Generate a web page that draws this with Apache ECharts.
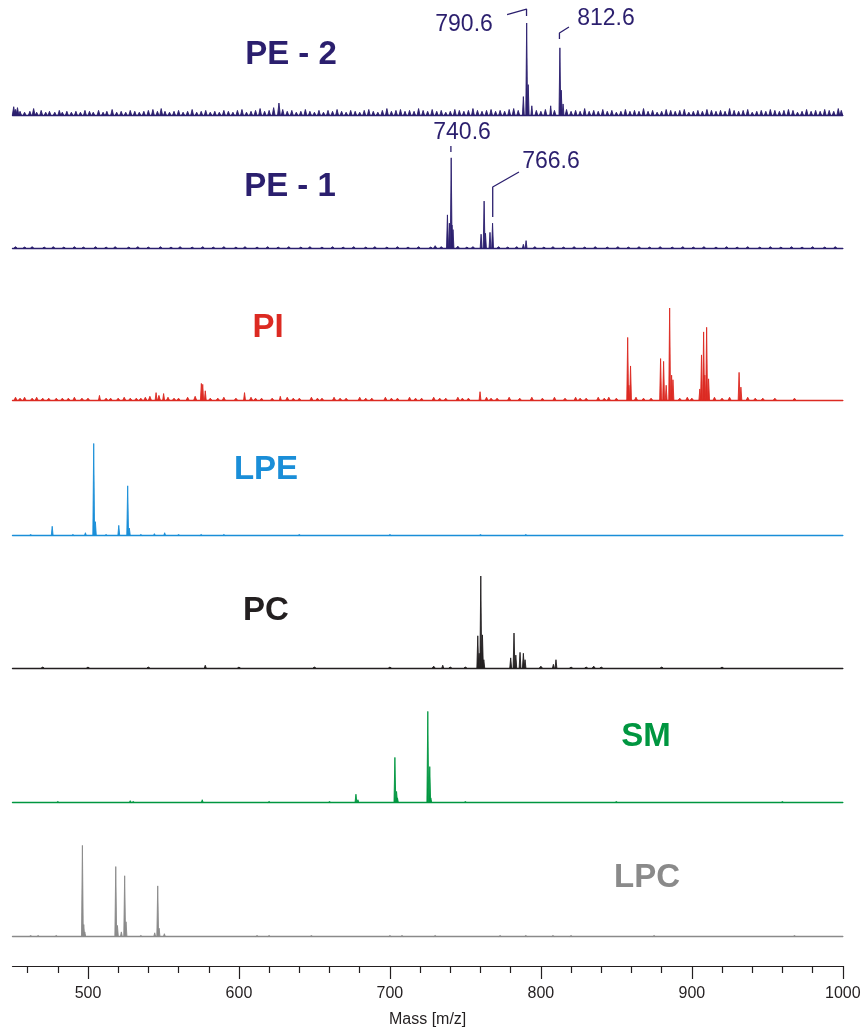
<!DOCTYPE html>
<html>
<head>
<meta charset="utf-8">
<script src="https://cdn.jsdelivr.net/npm/echarts@6/dist/echarts.min.js"></script>
<style>
html,body{margin:0;padding:0;background:#fff;}
#chart{width:862px;height:1033px;}
</style>
</head>
<body>
<div id="chart"></div>
<script>
// ---------------- DATA ----------------
const xMajorTicks = [500, 600, 700, 800, 900, 1000];
const xMinorTicks = [460, 480, 520, 540, 560, 580, 620, 640, 660, 680, 720, 740, 760, 780, 820, 840, 860, 880, 920, 940, 960, 980];
const axisTitle = 'Mass [m/z]';

// [m/z, relative intensity %]
const pe2Peaks = [[788.4, 20], [790.6, 100], [791.6, 33], [794, 10], [806.5, 10], [812.6, 73], [813.5, 27], [814.7, 12]];
const pe2Noise = [[450.8, 9], [452, 6], [453.3, 8], [455, 4], [458, 3], [461.5, 4], [464, 7], [466, 3], [469, 5], [472, 3], [474.5, 4], [478, 3], [481, 5], [483, 3], [486, 4], [489, 3], [492, 4], [495, 3], [498, 5], [501, 4], [503.5, 3], [507, 5], [510, 3], [512.5, 4], [516, 6], [519, 3], [522, 4], [525, 3], [528, 5], [531, 4], [534, 3], [537, 4], [540, 5], [543, 6], [546, 4], [548.5, 7], [551, 4], [554, 3], [557, 4], [560, 5], [563, 3], [566, 4], [569, 6], [572, 3], [575, 4], [578, 5], [581, 3], [584, 4], [587, 3], [590, 5], [593, 4], [596, 3], [599, 5], [602, 6], [605, 3], [608, 4], [611, 5], [614, 7], [617, 4], [620, 5], [623, 8], [626.5, 13], [629, 6], [632, 4], [635, 5], [638, 3], [641, 4], [644, 6], [647, 4], [650, 3], [653, 5], [656, 3], [659, 5], [662, 4], [665, 6], [668, 4], [671, 3], [674, 5], [677, 4], [680, 3], [683, 5], [686, 6], [689, 4], [692, 3], [695, 5], [698, 7], [701, 4], [704, 5], [707, 6], [710, 4], [713, 5], [716, 4], [719, 7], [722, 5], [725, 4], [728, 6], [731, 4], [734, 5], [737, 3], [740, 4], [743, 6], [746, 5], [749, 4], [752, 5], [755, 7], [758, 5], [761, 4], [764, 5], [767, 6], [770, 4], [773, 5], [776, 4], [779, 6], [782, 7], [785, 5], [797, 5], [800, 4], [803, 6], [809, 5], [817, 6], [820, 4], [823, 5], [826, 4], [829, 7], [832, 4], [835, 5], [838, 4], [841, 6], [844, 4], [847, 5], [850, 3], [853, 4], [856, 6], [859, 4], [862, 5], [865, 4], [868, 7], [871, 4], [874, 5], [877, 3], [880, 4], [883, 6], [886, 5], [889, 4], [892, 5], [895, 6], [898, 3], [901, 4], [904, 5], [907, 4], [910, 6], [913, 5], [916, 4], [919, 5], [922, 4], [925, 7], [928, 5], [931, 4], [934, 5], [937, 6], [940, 3], [943, 4], [946, 5], [949, 4], [952, 6], [955, 5], [958, 4], [961, 5], [964, 6], [967, 5], [970, 3], [973, 4], [976, 6], [979, 4], [982, 5], [985, 4], [988, 6], [991, 5], [994, 4], [997, 7], [999, 5]];

const pe1Peaks = [[738.1, 36], [739.4, 27], [740.6, 98], [741.1, 25], [741.8, 20], [760.4, 15], [762.4, 51], [763.3, 16], [766.3, 17], [768, 27], [788.4, 4], [790.2, 8]];
const pe1Noise = [[452, 1.5], [458, 1], [463, 1.5], [471, 1], [477, 1.5], [484, 1], [491, 1.5], [497, 1], [505, 1.5], [512, 1], [518, 1.5], [527, 1], [533, 1.5], [540, 1], [548, 1.5], [555, 1], [561, 1.5], [569, 1], [576, 1.5], [583, 1], [590, 1.5], [598, 1], [604, 1.5], [612, 1], [619, 1.5], [626, 1], [633, 1.5], [641, 1], [647, 1.5], [655, 1], [662, 1.5], [669, 1], [676, 1.5], [684, 1], [690, 1.5], [698, 1], [705, 1.5], [712, 1], [719, 1.5], [727, 1], [730, 2.5], [734, 1.5], [745, 2], [751, 1], [755, 1.5], [772, 1.5], [778, 1], [784, 1.5], [796, 1.5], [802, 1], [808, 1.5], [815, 1], [822, 1.5], [829, 1], [836, 1.5], [844, 1], [851, 1.5], [858, 1], [865, 1.5], [872, 1], [879, 1.5], [887, 1], [894, 1.5], [901, 1], [908, 1.5], [916, 1], [923, 1.5], [930, 1], [937, 1.5], [945, 1], [952, 1.5], [959, 1], [966, 1.5], [973, 1], [980, 1.5], [988, 1], [995, 1.5]];

const piPeaks = [[507.6, 5], [545.1, 8], [550.1, 7], [575.1, 18], [576, 17], [577.7, 10], [603.7, 8], [627.4, 4], [759.7, 9], [857.5, 68], [858.3, 16], [859.4, 37], [879.3, 45], [881.3, 42], [883, 16], [885.3, 100], [886.6, 27], [887.5, 22], [905.3, 12], [906.4, 49], [907.8, 74], [908.6, 27], [909.8, 79], [911.1, 23], [931.3, 30], [932.5, 14]];
const piNoise = [[452, 3], [455, 2], [458, 3], [463, 2], [466, 3], [470, 2], [474, 2], [479, 2], [483, 2], [487, 2], [491, 3], [496, 2], [500, 2], [512, 2], [515, 2], [520, 2], [524, 3], [528, 2], [532, 2], [535, 2], [538, 3], [541, 4], [547, 5], [553, 3], [557, 2], [560, 2], [566, 3], [571, 4], [581, 2], [586, 2], [590, 3], [598, 2], [608, 3], [611, 2], [615, 2], [622, 2], [632, 3], [636, 2], [640, 2], [648, 3], [652, 2], [655, 2], [663, 3], [667, 2], [671, 2], [680, 3], [684, 2], [688, 2], [697, 3], [701, 2], [705, 2], [713, 3], [717, 2], [721, 2], [729, 3], [733, 2], [737, 2], [745, 3], [748, 2], [752, 2], [764, 3], [767, 2], [771, 2], [779, 3], [786, 2], [794, 3], [801, 2], [809, 3], [816, 2], [823, 3], [826, 2], [830, 2], [838, 3], [842, 2], [845, 3], [850, 2], [863, 3], [868, 2], [873, 2], [892, 2], [897, 3], [900, 2], [915, 3], [920, 2], [925, 3], [937, 3], [942, 2], [947, 2], [955, 2], [968, 2]];

const lpePeaks = [[476.3, 10], [498.3, 3], [503.8, 100], [504.9, 15], [520.4, 11], [526.3, 54], [527.4, 8], [544, 2], [550.8, 3]];
const lpeNoise = [[462, 1], [490, 1], [512, 1], [535, 1], [560, 1], [575, 1], [590, 1], [640, 1], [700, 1], [760, 1], [790, 1]];

const pcPeaks = [[577.7, 3], [735, 3], [758.2, 35], [759.1, 16], [760.2, 100], [761.3, 36], [762.2, 9], [780, 11], [782.2, 38], [783.4, 14], [786.2, 17], [788.4, 16], [789.5, 9], [808.3, 4], [810, 9]];
const pcNoise = [[470, 1], [500, 1], [540, 1], [600, 1], [650, 1], [700, 1], [729, 2], [740, 1], [750, 1], [800, 2], [820, 1], [830, 1], [835, 2], [840, 1], [880, 1], [920, 1]];

const smPeaks = [[528, 2], [575.7, 3], [677.5, 9], [678.8, 3], [703.3, 49], [704.4, 12], [705, 5], [725.1, 99], [726.4, 39], [727.1, 5]];
const smNoise = [[480, 1], [530, 1], [620, 1], [660, 1], [750, 1], [850, 1], [960, 1]];

const lpcPeaks = [[496.3, 99], [497.2, 13], [497.9, 5], [518.4, 76], [519.5, 12], [522.1, 5], [524.3, 66], [525.2, 16], [544.2, 4], [546.2, 55], [547.1, 9], [550.6, 3]];
const lpcNoise = [[462, 1], [467, 1], [479, 1], [535, 1], [612, 1], [620, 1], [648, 1], [700, 1], [708, 1], [730, 1], [773, 1], [790, 1], [808, 1], [820, 1], [875, 1], [968, 1]];

// ---------------- LAYOUT / STYLE ----------------
const panels = [
  {name: 'PE - 2', color: '#2b1f6e', peaks: pe2Peaks, noise: pe2Noise, base: 115,   title: [291, 55]},
  {name: 'PE - 1', color: '#2b1f6e', peaks: pe1Peaks, noise: pe1Noise, base: 248,   title: [290, 187]},
  {name: 'PI',     color: '#dc2a22', peaks: piPeaks,  noise: piNoise,  base: 400,   title: [268, 328]},
  {name: 'LPE',    color: '#1a8ed8', peaks: lpePeaks, noise: lpeNoise, base: 535.5, title: [266, 470]},
  {name: 'PC',     color: '#231f20', peaks: pcPeaks,  noise: pcNoise,  base: 668,   title: [266, 611]},
  {name: 'SM',     color: '#009640', peaks: smPeaks,  noise: smNoise,  base: 802.5, title: [646, 737]},
  {name: 'LPC',    color: '#8a8a8a', peaks: lpcPeaks, noise: lpcNoise, base: 936.5, title: [647, 878]}
];
const PANEL_H = 92, LEFT = 12.5, RIGHT = 19.2, AXIS_Y = 966;
const PEAK_HALF = 0.6, NOISE_HALF = 0.9;

// annotation leader lines (data coords: m/z, intensity %) in panel index
const leaders = [
  {panel: 0, pts: [[777.6, 109], [790.5, 115.2], [790.5, 107.6]], label: '790.6', at: [749.1, 97.8]},
  {panel: 0, pts: [[818.6, 95.7], [812.3, 89.1], [812.3, 82.6]], label: '812.6', at: [843.1, 104.9]},
  {panel: 1, pts: [[740.4, 110.9], [740.4, 104.3]], label: '740.6', at: [747.8, 125]},
  {panel: 1, pts: [[785.5, 82.6], [768.1, 66.3], [768.1, 33.7]], label: '766.6', at: [806.7, 93.5]}
];

const FONT = '"Liberation Sans", Arial, sans-serif';

function spikeItems(peaks, noise) {
  return peaks.map(p => [p[0], p[1], PEAK_HALF]).concat(noise.map(p => [p[0], p[1], NOISE_HALF]));
}
function makeRender(color) {
  return function (params, api) {
    const m = api.value(0), h = api.value(1), w = api.value(2);
    const a = api.coord([m - w, 0]), b = api.coord([m, h]), c = api.coord([m + w, 0]);
    return {
      type: 'polygon',
      shape: {points: [a, b, c]},
      style: {fill: color, stroke: color, lineWidth: 0.9, lineJoin: 'round'}
    };
  };
}

const grids = [], xAxes = [], yAxes = [], series = [], graphics = [];
panels.forEach((p, i) => {
  grids.push({left: LEFT, right: RIGHT, top: p.base - PANEL_H, height: PANEL_H, containLabel: false, outerBoundsMode: 'none'});
  xAxes.push({
    type: 'value', gridIndex: i, min: 450, max: 1000, position: 'bottom',
    axisLine: {show: true, onZero: false, lineStyle: {color: p.color, width: 1.4}},
    axisTick: {show: false}, axisLabel: {show: false}, splitLine: {show: false}
  });
  yAxes.push({type: 'value', gridIndex: i, min: 0, max: 100, show: false});
  series.push({
    type: 'custom', xAxisIndex: i, yAxisIndex: i, data: spikeItems(p.peaks, p.noise),
    renderItem: makeRender(p.color), clip: false, silent: true, z: 3,
    encode: {x: 0, y: 1}
  });
  graphics.push({
    type: 'text', x: p.title[0], y: p.title[1],
    style: {text: p.name, fill: p.color, font: 'bold 33px ' + FONT, align: 'center', verticalAlign: 'middle'}
  });
});

leaders.forEach(l => {
  const c = panels[l.panel].color;
  series.push({
    type: 'line', xAxisIndex: l.panel, yAxisIndex: l.panel, data: l.pts, symbol: 'none',
    lineStyle: {color: c, width: 1.3}, clip: false, silent: true
  });
  series.push({
    type: 'scatter', xAxisIndex: l.panel, yAxisIndex: l.panel, symbolSize: 0, clip: false, silent: true,
    itemStyle: {opacity: 1},
    data: [{value: l.at, name: l.label}],
    label: {show: true, position: 'inside', formatter: '{b}', color: c, opacity: 1, fontSize: 23, fontFamily: FONT}
  });
});

// bottom axis grid
const ai = panels.length;
grids.push({left: LEFT, right: RIGHT, top: AXIS_Y - 40, height: 40, containLabel: false, outerBoundsMode: 'none'});
xAxes.push({
  type: 'value', gridIndex: ai, min: 450, max: 1000, position: 'bottom',
  name: axisTitle, nameLocation: 'middle', nameGap: 46,
  nameTextStyle: {fontSize: 16, color: '#231f20', fontFamily: FONT},
  axisLine: {show: true, lineStyle: {color: '#231f20', width: 1.2}},
  axisTick: {show: true, customValues: xMajorTicks, length: 13, inside: false, lineStyle: {color: '#231f20', width: 1.2}},
  axisLabel: {show: true, customValues: xMajorTicks, margin: 20, fontSize: 16, color: '#231f20', fontFamily: FONT,
    formatter: v => String(v)},
  splitLine: {show: false}
});
xAxes.push({
  type: 'value', gridIndex: ai, min: 450, max: 1000, position: 'bottom', offset: 0,
  axisLine: {show: false},
  axisTick: {show: true, customValues: xMinorTicks, length: 7, inside: false, lineStyle: {color: '#231f20', width: 1.2}},
  axisLabel: {show: false},
  splitLine: {show: false}
});
yAxes.push({type: 'value', gridIndex: ai, min: 0, max: 1, show: false});

const chart = echarts.init(document.getElementById('chart'), null, {renderer: 'canvas'});
chart.setOption({
  animation: false,
  backgroundColor: '#ffffff',
  grid: grids,
  xAxis: xAxes,
  yAxis: yAxes,
  series: series,
  graphic: graphics
});
</script>
</body>
</html>
